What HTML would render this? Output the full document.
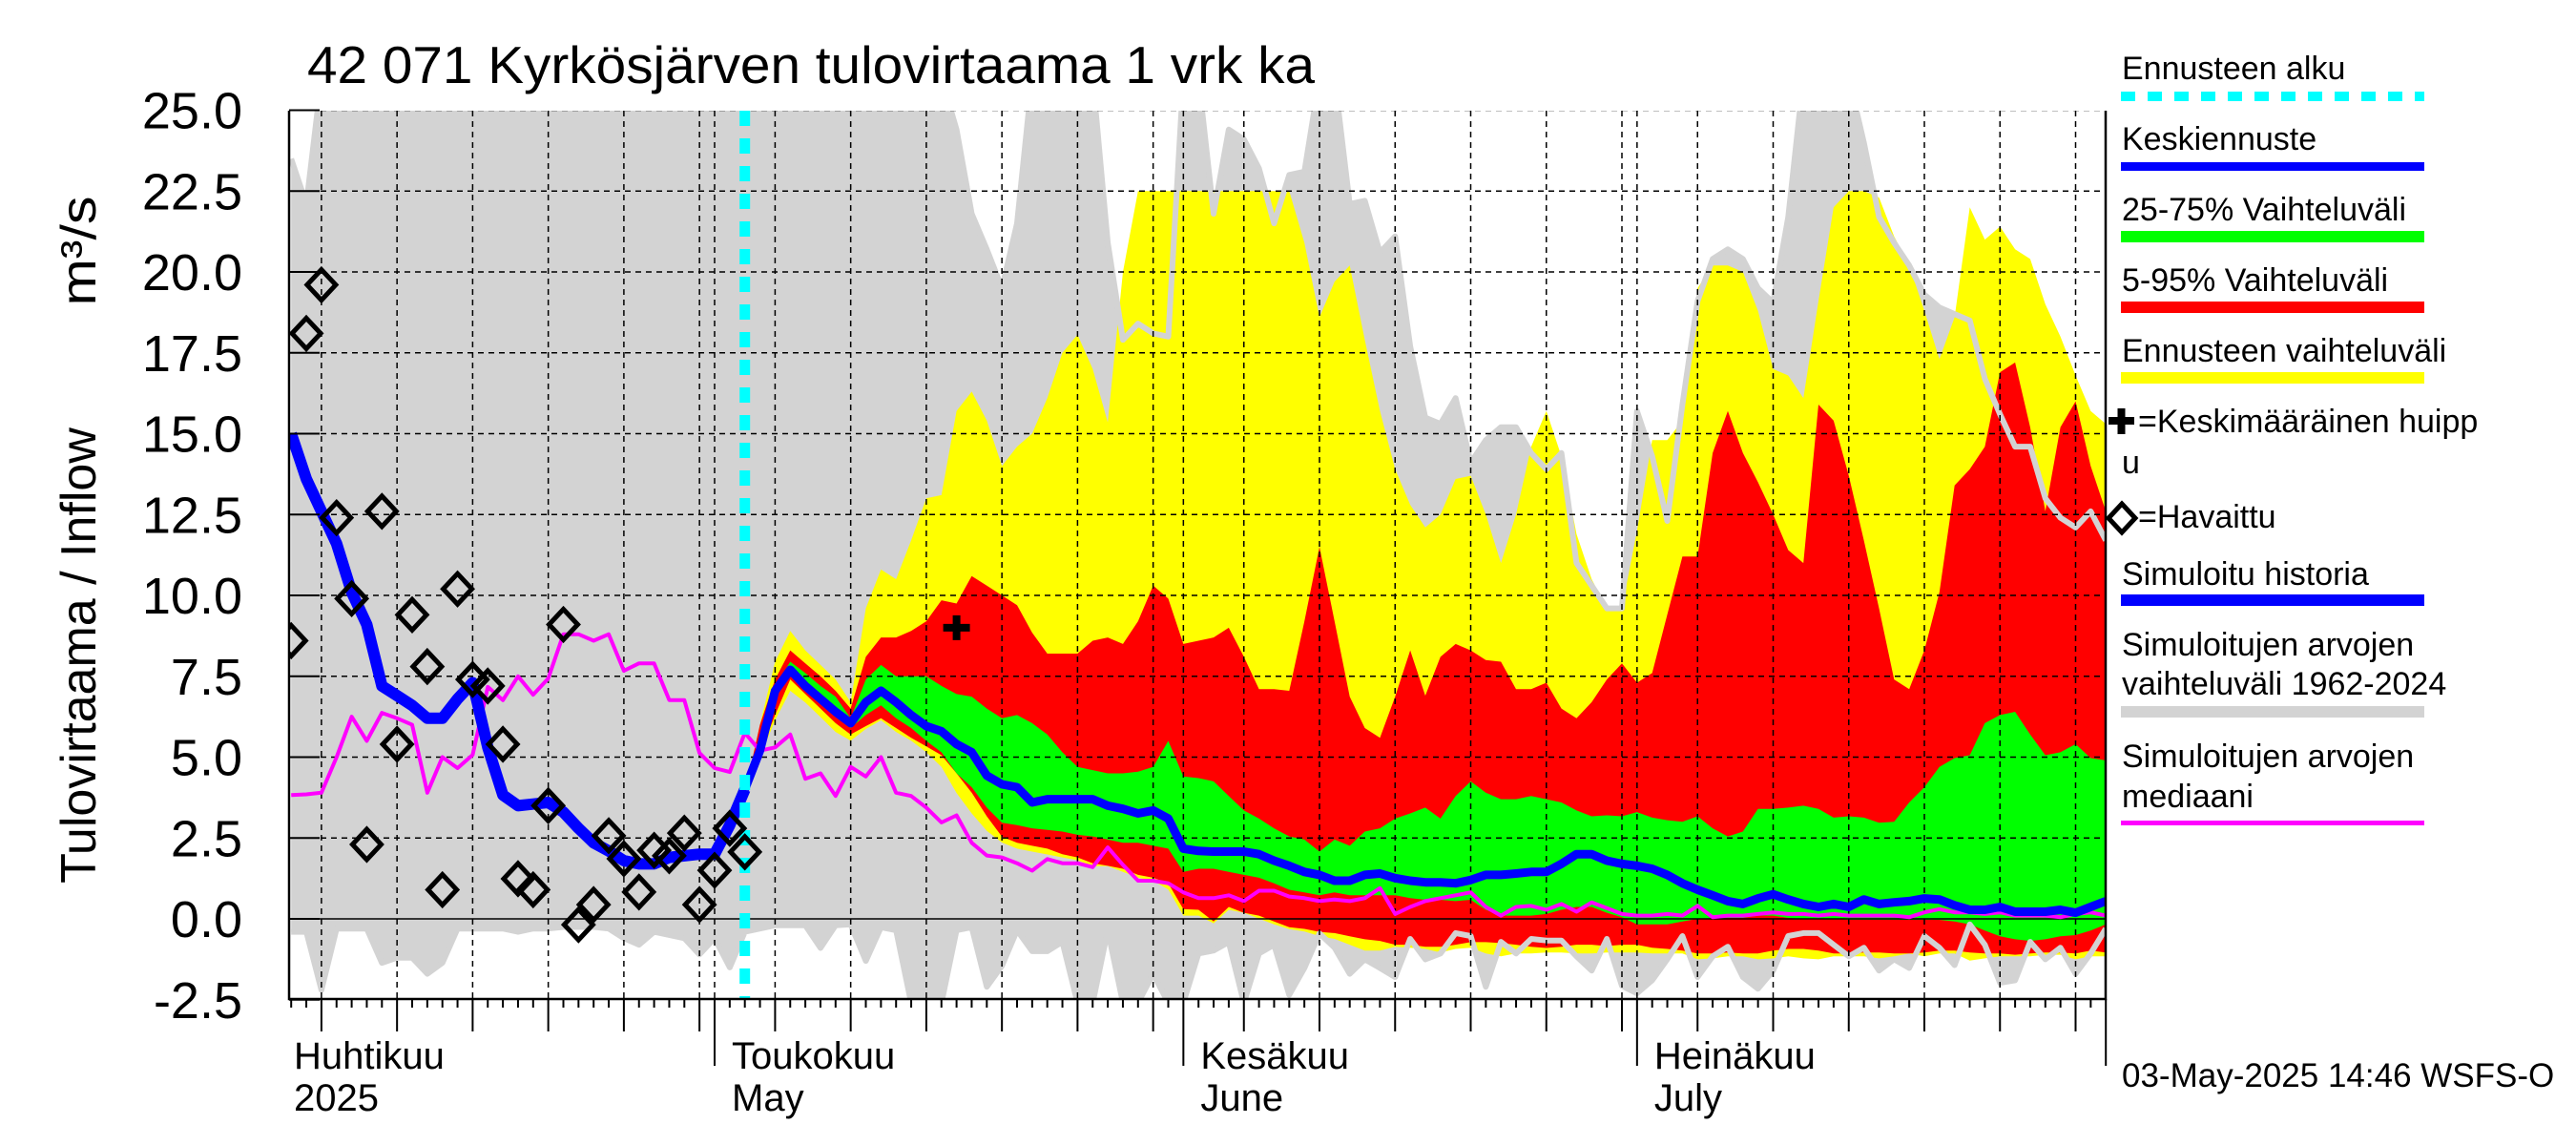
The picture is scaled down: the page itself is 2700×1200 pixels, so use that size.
<!DOCTYPE html>
<html><head><meta charset="utf-8"><title>Kyrkösjärven tulovirtaama</title>
<style>
html,body{margin:0;padding:0;background:#fff;}
svg{display:block;font-family:"Liberation Sans",Arial,sans-serif;}
</style></head>
<body>
<svg id="chart" width="2700" height="1200" viewBox="0 0 2700 1200" xmlns="http://www.w3.org/2000/svg">
<defs><clipPath id="plotclip"><rect x="303" y="116" width="1904" height="931"/></clipPath></defs>
<rect x="0" y="0" width="2700" height="1200" fill="#fff"/>
<text x="322" y="87" font-size="55" textLength="1056" lengthAdjust="spacingAndGlyphs">42 071 Kyrkösjärven tulovirtaama 1 vrk ka</text>
<g id="plot" clip-path="url(#plotclip)"></g>
<g id="axes"></g>
<text transform="translate(100,687) rotate(-90)" text-anchor="middle" font-size="52">Tulovirtaama / Inflow</text>
<text transform="translate(100,263) rotate(-90)" text-anchor="middle" font-size="52" textLength="115" lengthAdjust="spacingAndGlyphs">m³/s</text>
<g id="legend" font-size="34">
  <text x="2224" y="83">Ennusteen alku</text>
  <line x1="2223" y1="101" x2="2541" y2="101" stroke="#00ffff" stroke-width="10" stroke-dasharray="15 13"/>
  <text x="2224" y="157">Keskiennuste</text>
  <rect x="2223" y="170" width="318" height="9" fill="#0000ff"/>
  <text x="2224" y="231">25-75% Vaihteluväli</text>
  <rect x="2223" y="242" width="318" height="12" fill="#00ff00"/>
  <text x="2224" y="305">5-95% Vaihteluväli</text>
  <rect x="2223" y="316" width="318" height="12" fill="#ff0000"/>
  <text x="2224" y="379">Ennusteen vaihteluväli</text>
  <rect x="2223" y="390" width="318" height="12" fill="#ffff00"/>
  <path d="M2210 441 H2237 M2223.5 428 V455" stroke="#000" stroke-width="8"/>
  <text x="2241" y="453">=Keskimääräinen huipp</text>
  <text x="2224" y="496">u</text>
  <path d="M2224 528 L2238 543 L2224 558 L2210 543 Z" fill="none" stroke="#000" stroke-width="5"/>
  <text x="2241" y="553">=Havaittu</text>
  <text x="2224" y="613">Simuloitu historia</text>
  <rect x="2223" y="623" width="318" height="12" fill="#0000ff"/>
  <text x="2224" y="687">Simuloitujen arvojen</text>
  <text x="2224" y="728">vaihteluväli 1962-2024</text>
  <rect x="2223" y="740" width="318" height="12" fill="#d3d3d3"/>
  <text x="2224" y="804">Simuloitujen arvojen</text>
  <text x="2224" y="846">mediaani</text>
  <rect x="2223" y="860" width="318" height="5" fill="#ff00ff"/>
</g>
<text x="2224" y="1139" font-size="35">03-May-2025 14:46 WSFS-O</text>
</svg>
<script>
// ---- data (day 0 = 1 May 2025) ----
const histStart = -28; // daily series from day -28 to 92
const fcStart = 2;     // forecast series from day 2 to 92
const forecastStartDay = 2;
const yTicks = [-2.5, 0, 2.5, 5, 7.5, 10, 12.5, 15, 17.5, 20, 22.5, 25];
const yTickLabels = ["-2.5","0.0","2.5","5.0","7.5","10.0","12.5","15.0","17.5","20.0","22.5","25.0"];
const gridDays = [-26,-21,-16,-11,-6,-1,0,4,9,14,19,24,29,31,35,40,45,50,55,60,61,65,70,75,80,85,90];
const monthDays = [0,31,61,92];
const monthLabels = ["Huhtikuu","Toukokuu","Kesäkuu","Heinäkuu"];
const monthLabels2 = ["2025","May","June","July"];
const monthLabelDays = [-28,0,31,61];

const simMax = [23.5,22.1,
26,26,26,26,26,26,26,26,26,26,26,26,26,26,26,26,26,26,26,26,26,26,26,26,26,26,26,26,26,26,26,26,26,26,26,26,26,26,26,26,26,26,
24.4,21.8,20.7,19.5,21.5,26,26,26,26,26,20.9,17.9,18.4,18.1,18.0,26,26,21.8,24.4,24.1,23.2,21.5,23.0,23.1,26,26,22.1,22.2,20.6,21.1,17.7,15.5,15.3,16.1,14.1,14.8,15.2,15.2,14.4,13.9,14.4,11.0,10.3,9.6,9.6,15.7,14.3,12.3,15.9,19.1,20.4,20.7,20.4,19.5,19.05,21.7,26,26,26,26,24,21.7,20.9,20.2,19.3,18.9,18.7,18.5,16.7,15.6,14.6,14.6,13.0,12.4,12.1,12.6,11.7];
const simMin = [-0.4,-0.4,-2.2,-0.3,-0.3,-0.3,-1.36,-1.2,-1.2,-1.7,-1.36,-0.3,-0.3,-0.3,-0.3,-0.4,-0.3,-0.3,-0.25,-0.25,-0.25,-0.3,-0.6,-0.8,-0.4,-0.5,-0.6,-1.1,-0.6,-1.5,
-0.4,-0.3,-0.2,-0.2,-0.2,-0.9,-0.2,-0.17,-1.3,-0.26,-0.35,-2.6,-2.6,-2.6,-0.35,-0.26,-2.1,-1.45,-0.35,-1.0,-1.0,-0.71,-2.6,-2.6,-0.35,-2.6,-2.6,-1.7,-2.6,-2.6,-1.07,-0.98,-0.72,-2.6,-1.07,-0.8,-2.35,-1.52,-0.45,-0.89,-1.7,-1.25,-1.52,-1.8,-0.62,-1.25,-1.07,-0.44,-0.53,-2.1,-0.71,-1.07,-0.62,-0.67,-0.67,-1.16,-1.6,-0.62,-2.07,-2.3,-1.9,-1.25,-0.53,-1.8,-1.16,-0.86,-1.8,-2.16,-1.6,-0.53,-0.44,-0.44,-0.8,-1.16,-0.89,-1.6,-1.25,-1.52,-0.53,-0.89,-1.43,-0.17,-0.8,-1.98,-1.9,-0.71,-1.25,-0.89,-1.7,-1.07,-0.3];
const simMedian = [3.83,3.85,3.9,5.0,6.25,5.5,6.37,6.2,6.0,3.9,5.0,4.66,5.07,7.17,6.76,7.5,6.93,7.43,8.8,8.8,8.6,8.8,7.67,7.9,7.9,6.76,6.76,5.13,4.66,4.54,
5.75,5.2,5.3,5.7,4.33,4.5,3.8,4.7,4.4,5.0,3.9,3.8,3.44,2.98,3.2,2.35,1.96,1.9,1.72,1.49,1.85,1.72,1.72,1.6,2.21,1.67,1.18,1.18,1.1,0.82,0.64,0.64,0.73,0.55,0.87,0.87,0.69,0.64,0.55,0.6,0.55,0.64,0.95,0.15,0.37,0.55,0.64,0.73,0.82,0.37,0.1,0.37,0.4,0.28,0.46,0.22,0.51,0.33,0.15,0.1,0.1,0.15,0.1,0.4,0.05,0.1,0.1,0.15,0.2,0.15,0.15,0.1,0.15,0.1,0.1,0.1,0.1,0.05,0.2,0.3,0.2,0.2,0.15,0.2,0.1,0.1,0.1,0.05,0.15,0.2,0.1];
const meanFlow = [15.0,13.6,12.6,11.6,10.1,9.1,7.2,6.9,6.6,6.2,6.2,6.8,7.3,5.3,3.83,3.5,3.55,3.6,3.3,2.8,2.35,2.1,1.8,1.7,1.7,1.9,1.95,2.0,2.0,2.9,
4.0,5.2,7.05,7.7,7.2,6.8,6.4,6.05,6.7,7.05,6.7,6.3,5.96,5.8,5.4,5.15,4.43,4.16,4.07,3.6,3.7,3.7,3.7,3.7,3.5,3.4,3.26,3.35,3.1,2.17,2.1,2.08,2.08,2.08,2.0,1.8,1.64,1.45,1.36,1.18,1.18,1.36,1.4,1.26,1.18,1.13,1.13,1.1,1.2,1.36,1.36,1.4,1.45,1.45,1.7,2.0,2.0,1.8,1.7,1.64,1.55,1.36,1.1,0.9,0.73,0.55,0.46,0.63,0.76,0.6,0.46,0.37,0.46,0.37,0.6,0.46,0.51,0.55,0.63,0.6,0.42,0.28,0.28,0.37,0.22,0.22,0.22,0.28,0.19,0.37,0.55];
const fcMax = [3.9,6.0,7.95,8.9,8.3,7.85,7.4,6.7,9.6,10.8,10.5,11.7,13.0,13.1,15.7,16.3,15.4,14.0,14.6,15.0,16.1,17.5,18.06,17.0,15.35,20.0,22.5,22.5,22.5,22.5,22.5,22.5,22.5,22.5,22.5,22.5,22.5,20.9,18.6,19.7,20.2,17.9,15.7,13.9,12.8,12.1,12.5,13.6,13.7,12.5,11.0,12.5,14.6,15.7,14.3,11.9,10.5,9.6,9.6,12.0,14.8,14.8,15.4,19.5,20.2,20.2,20.0,18.8,17.0,16.8,16.1,19.1,22.0,22.5,22.5,22.3,21.1,20.2,18.8,17.3,18.6,22.0,21.0,21.4,20.7,20.4,19.0,18.0,16.8,15.7,15.3];
const fcMin = [3.9,5.0,6.14,7.05,6.69,6.24,5.78,5.51,5.87,6.14,5.78,5.51,5.15,4.7,3.89,3.26,2.72,2.36,2.17,2.08,1.99,1.9,1.81,1.63,1.63,1.45,1.27,1.18,0.91,0.1,0.1,-0.14,0.28,0.19,0.01,-0.17,-0.32,-0.39,-0.53,-0.62,-0.8,-0.98,-0.98,-0.86,-0.89,-0.93,-1.04,-0.93,-0.89,-1.07,-1.16,-1.07,-1.07,-1.04,-1.04,-1.07,-1.07,-1.04,-1.04,-1.04,-1.07,-1.07,-1.07,-1.25,-1.22,-1.16,-1.16,-1.25,-1.22,-1.16,-1.22,-1.25,-1.16,-1.16,-1.16,-1.22,-1.16,-1.07,-1.16,-1.07,-1.07,-1.29,-1.22,-1.16,-1.16,-1.16,-1.11,-1.11,-1.25,-1.16,-1.16];
const p95 = [3.9,6.0,7.4,8.3,7.9,7.5,7.05,6.5,8.1,8.7,8.7,8.9,9.2,9.85,9.75,10.6,10.3,10.0,9.7,8.85,8.2,8.2,8.2,8.6,8.7,8.5,9.2,10.3,9.9,8.5,8.6,8.7,9.0,8.1,7.1,7.1,7.05,9.2,11.5,9.2,6.87,5.9,5.6,6.87,8.3,6.9,8.1,8.5,8.3,8.0,7.95,7.1,7.1,7.3,6.5,6.2,6.7,7.4,7.9,7.3,7.6,9.4,11.2,11.2,14.4,15.7,14.4,13.5,12.5,11.4,11.0,15.9,15.4,13.7,11.7,9.6,7.4,7.1,8.3,10.1,13.4,13.9,14.6,16.9,17.2,15.2,12.6,15.2,16.0,14.0,12.6];
const p05 = [3.9,5.1,6.3,7.4,6.95,6.5,6.05,5.7,5.96,6.2,5.9,5.6,5.33,5.06,4.5,3.9,3.17,2.54,2.35,2.26,2.17,2.0,1.9,1.72,1.64,1.55,1.36,1.27,1.1,0.3,0.28,-0.08,0.37,0.19,0.1,-0.08,-0.26,-0.31,-0.4,-0.44,-0.54,-0.63,-0.68,-0.8,-0.8,-0.86,-0.86,-0.8,-0.72,-0.72,-0.75,-0.8,-0.86,-0.9,-0.86,-0.8,-0.8,-0.84,-0.8,-0.8,-0.89,-0.93,-0.98,-1.07,-1.07,-1.04,-1.07,-1.07,-0.98,-0.93,-0.93,-0.98,-1.07,-1.07,-1.04,-1.04,-1.07,-1.07,-1.04,-0.98,-0.98,-1.04,-1.07,-1.07,-1.11,-1.07,-1.04,-1.04,-1.07,-0.98,-1.04];
const p75 = [3.9,5.5,7.2,7.95,7.6,7.2,6.87,6.2,7.4,7.85,7.5,7.5,7.5,7.2,6.95,6.87,6.5,6.2,6.3,6.05,5.7,5.15,4.7,4.6,4.5,4.5,4.55,4.7,5.5,4.4,4.35,4.25,3.8,3.35,3.1,2.8,2.55,2.45,2.08,2.45,2.26,2.7,2.8,3.1,3.26,3.44,3.1,3.8,4.25,3.9,3.7,3.7,3.8,3.7,3.6,3.35,3.17,3.2,3.17,3.3,3.13,3.05,3.0,3.17,2.8,2.55,2.7,3.4,3.4,3.44,3.5,3.4,3.13,3.17,3.13,2.97,3.0,3.6,4.07,4.7,4.97,5.06,6.05,6.3,6.4,5.7,5.06,5.15,5.4,4.97,4.9];
const p25 = [3.9,5.3,6.87,7.6,7.2,6.75,6.3,5.9,6.3,6.6,6.2,5.9,5.5,5.15,4.5,4.07,3.44,2.97,2.9,2.8,2.75,2.7,2.6,2.55,2.45,2.35,2.35,2.26,2.17,1.45,1.55,1.55,1.45,1.36,1.27,1.1,0.9,0.82,0.73,0.82,0.73,0.73,0.73,0.73,0.64,0.59,0.59,0.55,0.59,0.28,0.1,0.1,0.1,0.15,0.28,0.37,0.37,0.19,0.05,-0.17,-0.17,-0.17,-0.08,0.0,0.0,0.03,0.03,0.1,0.1,0.03,0.0,0.0,0.0,-0.03,-0.03,-0.03,-0.03,-0.03,-0.03,-0.03,-0.08,-0.17,-0.36,-0.54,-0.63,-0.68,-0.63,-0.54,-0.5,-0.36,-0.17];
const obsStart = -28;
const observed = [8.6,18.1,19.6,12.4,9.9,2.3,12.6,5.4,9.4,7.8,0.9,10.2,7.4,7.2,5.4,1.24,0.9,3.5,9.1,-0.18,0.44,2.57,1.86,0.83,2.12,1.95,2.65,0.44,1.5,2.8,2.07];
const peakDay = [16];
const peakValue = [9.0];

// ---- scales ----
const X0 = 749, DX = 15.85, Y0 = 963, DY = 33.9;
function xs(d){ return X0 + DX*d; }
function ys(v){ return Y0 - DY*v; }
const NS = "http://www.w3.org/2000/svg";
function mk(tag, attrs, parent){
  const e = document.createElementNS(NS, tag);
  for (const k in attrs) e.setAttribute(k, attrs[k]);
  parent.appendChild(e);
  return e;
}
const plot = document.getElementById('plot');
const axes = document.getElementById('axes');

function pts(start, arr){ return arr.map((v,i)=> xs(start+i).toFixed(1)+','+ys(v).toFixed(1)); }
function band(start, hi, lo, color, name){
  const p = pts(start, hi).concat(pts(start, lo).reverse());
  const el = mk('polygon', {points: p.join(' '), fill: color}, plot);
  
  
}
function line(start, arr, color, w, name){
  const el = mk('polyline', {points: pts(start, arr).join(' '), fill:'none', stroke:color, 'stroke-width':w, 'stroke-linejoin':'round'}, plot);
  
  
}

band(histStart, simMax, simMin, '#d3d3d3', 'sim-range-band');
band(fcStart, fcMax, fcMin, '#ffff00', 'forecast-range-band');
band(fcStart, p95, p05, '#ff0000', 'band-5-95');
band(fcStart, p75, p25, '#00ff00', 'band-25-75');
line(histStart, simMax, '#d3d3d3', 6, 'sim-range-upper-edge');
line(histStart, simMin, '#d3d3d3', 6, 'sim-range-lower-edge');

// grid
yTicks.forEach((v,i)=>{
  const g = mk('line', {x1:303, x2:2207, y1:ys(v), y2:ys(v), stroke:'#000', 'stroke-width':1.5, 'stroke-dasharray': v===0 ? 'none' : '6 5'}, plot);
  
  
});
gridDays.forEach(d=>{
  const g = mk('line', {x1:xs(d), x2:xs(d), y1:116, y2:1047, stroke:'#000', 'stroke-width':1.5, 'stroke-dasharray':'6 5'}, plot);
  
  
});

line(histStart, simMedian, '#ff00ff', 4, 'sim-median-line');
const histLen = forecastStartDay - histStart + 1;
line(forecastStartDay, meanFlow.slice(forecastStartDay - histStart), '#0000ff', 9, 'mean-forecast-line');
line(histStart, meanFlow.slice(0, histLen), '#0000ff', 12, 'sim-history-line');

const cy = mk('line', {x1:xs(forecastStartDay), x2:xs(forecastStartDay), y1:116, y2:1047, stroke:'#00ffff', 'stroke-width':11, 'stroke-dasharray':'16 13'}, plot);



observed.forEach((v,i)=>{
  const x = xs(obsStart+i), y = ys(v);
  const el = mk('path', {d:`M${x} ${y-16} L${x+15} ${y} L${x} ${y+16} L${x-15} ${y} Z`, fill:'none', stroke:'#000', 'stroke-width':5}, plot);
  
  
});
peakDay.forEach((d,i)=>{
  const x = xs(d), y = ys(peakValue[i]);
  const el = mk('path', {d:`M${x-14} ${y} H${x+14} M${x} ${y-13} V${y+13}`, stroke:'#000', 'stroke-width':8}, plot);
  
  
});

// axes
const fr = mk('path', {d:'M303 116 V1047 H2207 V116', fill:'none', stroke:'#000', 'stroke-width':2.5}, axes);


yTicks.forEach((v,i)=>{
  const t = mk('line', {x1:303, x2:335, y1:ys(v), y2:ys(v), stroke:'#000', 'stroke-width':2}, axes);
  
  
  const lb = mk('text', {x:254, y:ys(v)+19, 'text-anchor':'end', 'font-size':54}, axes);
  lb.textContent = yTickLabels[i];
  
  
});
for (let d = histStart; d <= 92; d++){
  let len = 9;
  if (gridDays.includes(d)) len = 34;
  if (monthDays.includes(d)) len = 70;
  const t = mk('line', {x1:xs(d), x2:xs(d), y1:1047, y2:1047+len, stroke:'#000', 'stroke-width':2}, axes);
  
  
}
monthLabels.forEach((m,i)=>{
  const x = i===0 ? 308 : xs(monthLabelDays[i]) + 18;
  const a = mk('text', {x:x, y:1120, 'font-size':40}, axes);
  a.textContent = m;
  
  
  const b = mk('text', {x:x, y:1164, 'font-size':40}, axes);
  b.textContent = monthLabels2[i];
  
  
});
</script>
</body></html>
